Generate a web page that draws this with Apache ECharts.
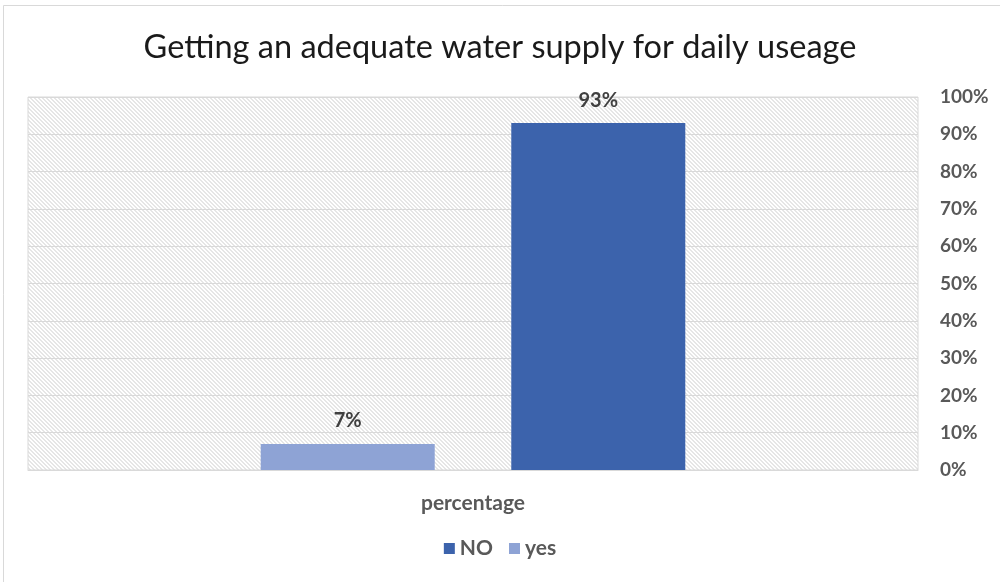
<!DOCTYPE html>
<html>
<head>
<meta charset="utf-8">
<script src="https://cdn.jsdelivr.net/npm/echarts@6/dist/echarts.min.js"></script>
<style>
  html, body { margin: 0; padding: 0; background: #fff; }
  #chart { width: 1000px; height: 582px; }
</style>
</head>
<body>
<div id="chart"></div>
<script>
// Survey answers: share of households getting enough water every day
const categories = ['percentage'];
const seriesNames = ['yes', 'NO'];
const yesValues = [7];
const noValues = [93];
const legendOrder = ['NO', 'yes'];

// Light diagonal hatch used to fill the plot area
function hatchPattern() {
  const size = 4;
  const c = document.createElement('canvas');
  c.width = size; c.height = size;
  const ctx = c.getContext('2d');
  ctx.fillStyle = '#ffffff';
  ctx.fillRect(0, 0, size, size);
  ctx.fillStyle = '#e6e6e6';
  for (let i = 0; i < size; i++) {
    ctx.fillRect(i, i, 1, 1);
    ctx.fillRect((i + 1) % size, i, 1, 1);
  }
  return { image: c, repeat: 'repeat' };
}

const font = 'Lato, "Open Sans", sans-serif';
const chart = echarts.init(document.getElementById('chart'), null, { renderer: 'canvas' });

chart.setOption({
  animation: false,
  backgroundColor: '#ffffff',
  title: {
    text: 'Getting an adequate water supply for daily useage',
    left: 'center',
    top: 26,
    textStyle: { fontFamily: font, fontWeight: 'normal', fontSize: 32.5, color: '#1a1a1a' }
  },
  graphic: [{
    type: 'rect',
    shape: { x: 3.5, y: 5.5, width: 1100, height: 700 },
    style: { fill: 'none', stroke: '#d9d9d9', lineWidth: 1 },
    silent: true
  }],
  legend: {
    data: legendOrder,
    bottom: 18,
    left: 'center',
    icon: 'rect',
    itemWidth: 11,
    itemHeight: 11,
    itemGap: 16,
    textStyle: { fontFamily: font, fontWeight: 'bold', fontSize: 21, color: '#595959' }
  },
  grid: {
    left: 28,
    right: 82,
    top: 97,
    bottom: 112,
    show: true,
    backgroundColor: hatchPattern(),
    borderColor: '#d9d9d9',
    borderWidth: 1
  },
  xAxis: {
    type: 'category',
    data: categories,
    axisLine: { show: true, lineStyle: { color: '#d9d9d9' } },
    axisTick: { show: false },
    axisLabel: { margin: 23, fontFamily: font, fontWeight: 'bold', fontSize: 21, color: '#595959' }
  },
  yAxis: {
    type: 'value',
    position: 'right',
    min: 0,
    max: 100,
    interval: 10,
    axisLine: { show: false },
    axisTick: { show: false },
    splitLine: { lineStyle: { color: '#d9d9d9', width: 1 } },
    axisLabel: {
      margin: 22,
      formatter: '{value}%',
      fontFamily: font, fontWeight: 'bold', fontSize: 19, color: '#595959'
    }
  },
  series: [
    {
      name: seriesNames[0],
      type: 'bar',
      data: yesValues,
      barWidth: 174,
      barGap: '44%',
      itemStyle: { color: '#8ea3d5' },
      label: {
        show: true, position: 'top', distance: 13, formatter: '{c}%',
        fontFamily: font, fontWeight: 'bold', fontSize: 20, color: '#404040'
      }
    },
    {
      name: seriesNames[1],
      type: 'bar',
      data: noValues,
      barWidth: 174,
      barGap: '44%',
      itemStyle: { color: '#3c63ac' },
      label: {
        show: true, position: 'top', distance: 13, formatter: '{c}%',
        fontFamily: font, fontWeight: 'bold', fontSize: 20, color: '#404040'
      }
    }
  ]
});
</script>
</body>
</html>
